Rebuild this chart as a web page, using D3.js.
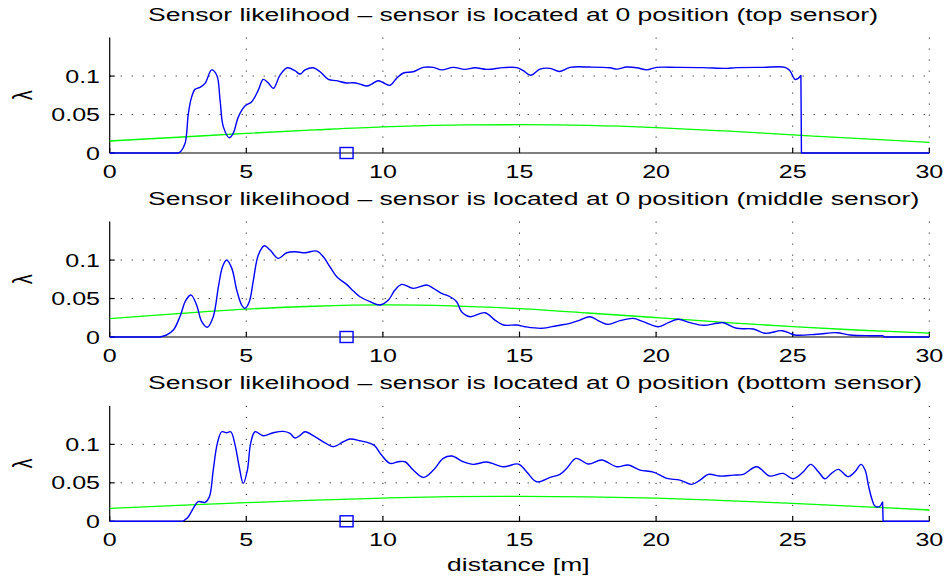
<!DOCTYPE html>
<html>
<head>
<meta charset="utf-8">
<script src="https://d3js.org/d3.v7.min.js"></script>
<style>
  html, body { margin: 0; padding: 0; background: #fff; }
  svg { display: block; }
  text { font-family: "Liberation Sans", Arial, Helvetica, sans-serif; fill: #000; }
</style>
</head>
<body>
<svg id="chart" width="946" height="577"></svg>
<script>
// Tick values shared by all three panels
const xTicks = [0, 5, 10, 15, 20, 25, 30];
const yTicks = [0, 0.05, 0.1];
const yTickLabels = ["0", "0.05", "0.1"];

const titles = [
  "Sensor likelihood \u2013 sensor is located at 0 position (top sensor)",
  "Sensor likelihood \u2013 sensor is located at 0 position (middle sensor)",
  "Sensor likelihood \u2013 sensor is located at 0 position (bottom sensor)"
];

// Measured likelihood (distance [m], lambda) per sensor
const topLikelihood = [[0,0],[2.5,0],[2.6,0.002],[2.76,0.0126],[2.88,0.0515],[3.0,0.073],[3.12,0.0827],[3.3,0.0853],[3.49,0.0905],[3.73,0.108],[3.92,0.101],[4.04,0.0688],[4.16,0.034],[4.38,0.0199],[4.52,0.0255],[4.71,0.047],[4.95,0.061],[5.2,0.0667],[5.44,0.0818],[5.62,0.0957],[5.8,0.0913],[5.99,0.084],[6.23,0.101],[6.5,0.1108],[6.78,0.107],[6.97,0.1026],[7.15,0.108],[7.45,0.1108],[7.7,0.1056],[8.0,0.0957],[8.31,0.094],[8.67,0.091],[8.92,0.0913],[9.16,0.0896],[9.41,0.087],[9.59,0.0896],[9.83,0.094],[10.02,0.0913],[10.26,0.088],[10.5,0.097],[10.75,0.104],[11.11,0.1056],[11.48,0.1113],[11.85,0.1113],[12.15,0.108],[12.58,0.1113],[13.0,0.1087],[13.37,0.1108],[13.8,0.1087],[14.41,0.111],[14.9,0.111],[15.14,0.107],[15.41,0.101],[15.75,0.109],[16.12,0.110],[16.46,0.106],[16.85,0.1113],[17.58,0.1117],[18.31,0.1108],[18.56,0.109],[18.92,0.1117],[19.29,0.1108],[19.66,0.108],[20.02,0.1113],[20.75,0.1113],[21.73,0.111],[22.58,0.110],[22.95,0.111],[23.92,0.1113],[24.72,0.1113],[24.9,0.107],[25.08,0.0957],[25.2,0.097],[25.3,0.101],[25.32,0],[30,0]];

const middleLikelihood = [[0,0],[1.84,0],[2.08,0.0026],[2.33,0.009],[2.57,0.0264],[2.79,0.048],[2.98,0.0545],[3.18,0.0416],[3.37,0.0199],[3.57,0.0126],[3.79,0.0264],[3.98,0.0654],[4.13,0.0913],[4.28,0.100],[4.47,0.0892],[4.65,0.061],[4.83,0.0416],[4.95,0.0372],[5.11,0.0459],[5.26,0.074],[5.44,0.1065],[5.66,0.1186],[5.87,0.113],[6.17,0.1022],[6.48,0.1095],[6.78,0.1108],[7.15,0.1095],[7.58,0.1117],[7.82,0.1043],[8.06,0.0913],[8.31,0.0783],[8.67,0.0684],[8.92,0.0597],[9.16,0.0523],[9.53,0.0459],[9.89,0.0416],[10.2,0.048],[10.44,0.061],[10.69,0.0684],[11.11,0.0632],[11.6,0.0675],[11.85,0.0632],[12.15,0.0567],[12.46,0.0523],[12.7,0.0459],[12.88,0.0329],[13.19,0.0264],[13.74,0.0316],[14.1,0.022],[14.41,0.0156],[14.9,0.0156],[15.2,0.0134],[15.81,0.0113],[16.36,0.0147],[16.85,0.0178],[17.21,0.022],[17.58,0.0264],[17.95,0.0199],[18.25,0.0164],[18.68,0.0212],[19.16,0.0242],[19.53,0.0199],[20.08,0.0134],[20.45,0.0186],[20.81,0.023],[21.24,0.0186],[21.73,0.0152],[22.22,0.0178],[22.46,0.0186],[22.95,0.0113],[23.56,0.0104],[23.99,0.0048],[24.6,0.0082],[24.9,0.0048],[25.08,0.0026],[25.88,0.0035],[26.61,0.0056],[27.1,0.0026],[27.83,0.0017],[28.32,0.0017],[28.34,0],[30,0]];

const bottomLikelihood = [[0,0],[2.69,0],[2.88,0.006],[3.06,0.0169],[3.24,0.0255],[3.49,0.0247],[3.65,0.032],[3.79,0.0666],[3.94,0.1013],[4.1,0.1164],[4.28,0.1151],[4.43,0.1164],[4.59,0.0991],[4.74,0.0709],[4.89,0.0493],[5.04,0.0666],[5.16,0.1013],[5.32,0.1164],[5.62,0.1112],[5.99,0.1151],[6.35,0.1169],[6.6,0.1143],[6.78,0.1082],[6.97,0.1117],[7.15,0.1164],[7.51,0.110],[7.88,0.102],[8.19,0.097],[8.55,0.1034],[8.8,0.1069],[9.16,0.1047],[9.53,0.1013],[9.71,0.0978],[9.95,0.0861],[10.26,0.0753],[10.56,0.0774],[10.81,0.0774],[11.11,0.0666],[11.48,0.0571],[11.85,0.0666],[12.21,0.0818],[12.52,0.0848],[12.94,0.0774],[13.31,0.074],[13.8,0.077],[14.41,0.0709],[14.96,0.0744],[15.26,0.0644],[15.63,0.0514],[16.12,0.0571],[16.48,0.061],[16.73,0.0688],[17.07,0.0818],[17.52,0.0744],[18.01,0.0796],[18.56,0.0709],[18.98,0.0731],[19.41,0.0666],[19.9,0.064],[20.39,0.0558],[20.87,0.0536],[21.3,0.048],[21.61,0.0536],[21.91,0.061],[22.34,0.0588],[22.83,0.06],[23.19,0.061],[23.68,0.0709],[24.17,0.0588],[24.65,0.0623],[25.02,0.0553],[25.39,0.0644],[25.66,0.074],[25.94,0.0644],[26.18,0.0553],[26.42,0.0623],[26.67,0.0675],[27.03,0.058],[27.28,0.0644],[27.5,0.074],[27.65,0.0666],[27.77,0.0471],[27.89,0.0299],[28.01,0.0199],[28.17,0.019],[28.29,0.0255],[28.31,0],[30,0]];

// Prior likelihood curves (distance [m], lambda)
const topPrior = [[0,0.0156],[2.5,0.0205],[5,0.0255],[7.5,0.0300],[10,0.0340],[12.5,0.0362],[15,0.0368],[17.5,0.0358],[20,0.0330],[22.5,0.0287],[25,0.0236],[27.5,0.0186],[30,0.0139]];
const middlePrior = [[0,0.0238],[2.5,0.0305],[5,0.0362],[7.5,0.0400],[10,0.0417],[12.5,0.0405],[15,0.0368],[17.5,0.0312],[20,0.0252],[22.5,0.0190],[25,0.0134],[27.5,0.0088],[30,0.0050]];
const bottomPrior = [[0,0.0169],[2.5,0.0207],[5,0.0242],[7.5,0.0275],[10,0.0302],[12.5,0.0320],[15,0.0325],[17.5,0.0318],[20,0.0300],[22.5,0.0270],[25,0.0234],[27.5,0.0192],[30,0.0147]];

// Sensor position marker (distance [m], lambda)
const sensorMarker = [8.67, 0];

const likelihoods = [topLikelihood, middleLikelihood, bottomLikelihood];
const priors = [topPrior, middlePrior, bottomPrior];

const svg = d3.select("#chart");
const SX = 1.39;            // horizontal stretch of all text
const left = 109.7, right = 929.3;
const panelBottoms = [153, 337, 521.3];
const panelHeight = 115.4;

const x = d3.scaleLinear().domain([0, 30]).range([left, right]);

function stretchedText(g, px, py, str, size, anchor) {
  return g.append("text")
    .attr("transform", `translate(${px},${py}) scale(${SX},1)`)
    .attr("text-anchor", anchor)
    .style("font-size", size + "px")
    .text(str);
}

// Split a series into its zero-valued lead-in, smooth body and zero-valued tail
function splitSeries(data) {
  let first = data.findIndex(d => d[1] > 0);
  let last = data.length - 1;
  while (last > 0 && data[last][1] === 0) last--;
  return {
    lead: data.slice(0, first),
    body: data.slice(first - 1, last + 1),
    tail: data.slice(last)
  };
}

panelBottoms.forEach((bottom, i) => {
  const top = bottom - panelHeight;
  const y = d3.scaleLinear().domain([0, 0.15]).range([bottom, top]);
  const g = svg.append("g");

  // dotted grid
  const grid = g.append("g").attr("stroke", "#000").attr("stroke-width", 1)
    .attr("stroke-dasharray", "1,10").attr("fill", "none");
  grid.selectAll("line.v").data(xTicks.filter(d => d > 0)).join("line")
    .attr("x1", d => x(d)).attr("x2", d => x(d))
    .attr("y1", y(0.15)).attr("y2", y(0));
  grid.selectAll("line.h").data(yTicks.filter(d => d > 0)).join("line")
    .attr("x1", x(0)).attr("x2", x(30))
    .attr("y1", d => y(d)).attr("y2", d => y(d));

  // axes: left and bottom lines with inward ticks
  const axes = g.append("g").attr("stroke", "#000").attr("stroke-width", 1.2);
  axes.append("line").attr("x1", x(0)).attr("x2", x(30)).attr("y1", y(0)).attr("y2", y(0));
  axes.append("line").attr("x1", x(0)).attr("x2", x(0)).attr("y1", y(0)).attr("y2", y(0.15));
  axes.selectAll("line.xt").data(xTicks).join("line")
    .attr("x1", d => x(d)).attr("x2", d => x(d))
    .attr("y1", y(0)).attr("y2", y(0) - 5);
  axes.selectAll("line.yt").data(yTicks).join("line")
    .attr("x1", x(0)).attr("x2", x(0) + 5)
    .attr("y1", d => y(d)).attr("y2", d => y(d));

  // tick labels
  xTicks.forEach(t => stretchedText(g, x(t), y(0) + 24.5, String(t), 18, "middle"));
  yTicks.forEach((t, k) => stretchedText(g, 100, y(t) + 6.5, yTickLabels[k], 18, "end"));

  // y label
  g.append("text")
    .attr("transform", `translate(32,${(top + bottom) / 2}) scale(${SX},1) rotate(-90)`)
    .attr("text-anchor", "middle")
    .style("font-size", "20px")
    .text("\u03bb");

  // title
  stretchedText(g, 148, top - 16.5, titles[i], 19.1, "start");

  const smooth = d3.line().x(d => x(d[0])).y(d => y(d[1])).curve(d3.curveCatmullRom.alpha(0.5));
  const straight = d3.line().x(d => x(d[0])).y(d => y(d[1]));

  g.append("path").datum(priors[i]).attr("d", smooth)
    .attr("fill", "none").attr("stroke", "#00ff00").attr("stroke-width", 1.3);

  const parts = splitSeries(likelihoods[i]);
  const blue = g.append("g").attr("fill", "none").attr("stroke", "#0000ff")
    .attr("stroke-width", 1.4).attr("stroke-linejoin", "round");
  blue.append("path").datum(parts.lead).attr("d", straight);
  blue.append("path").datum(parts.body).attr("d", smooth);
  blue.append("path").datum(parts.tail).attr("d", straight);

  g.append("rect")
    .attr("x", x(sensorMarker[0]) - 6.5).attr("y", y(sensorMarker[1]) - 5.5)
    .attr("width", 13).attr("height", 11)
    .attr("fill", "none").attr("stroke", "#0000ff").attr("stroke-width", 1.4);
});

// x label
stretchedText(svg, 518.3, 570.7, "distance [m]", 19, "middle");
</script>
</body>
</html>
